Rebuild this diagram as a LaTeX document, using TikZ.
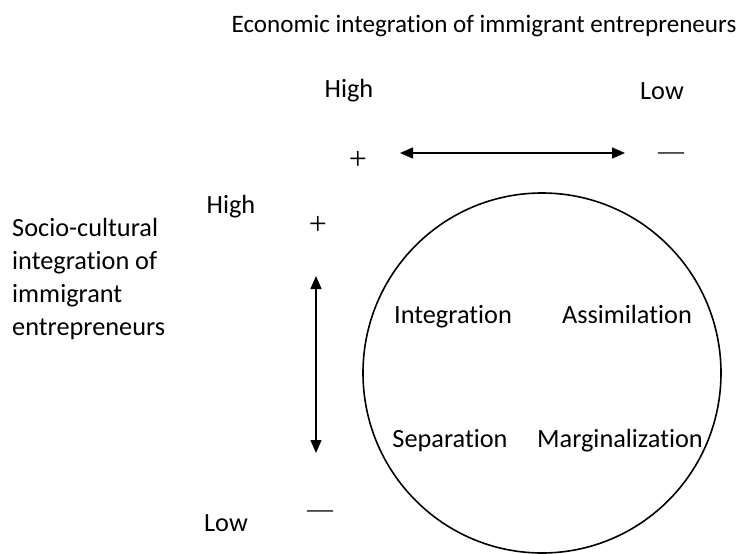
\documentclass[tikz,border=0pt]{standalone}
\usepackage{fontspec}
\setmainfont{Carlito}[Ligatures={NoCommon,NoRare,NoContextual}]
\newfontfamily\signfont{Liberation Serif}
\usetikzlibrary{arrows.meta}
\begin{document}
\begin{tikzpicture}[x=1pt,y=-1pt,
  lbl/.style={inner sep=0pt,anchor=base,font=\fontsize{26.3}{32.7}\selectfont},
  plussgn/.style={inner sep=0pt,anchor=base,font=\signfont\fontsize{32}{36}\selectfont},
  minussgn/.style={inner sep=0pt,anchor=base,font=\signfont\fontsize{26}{30}\selectfont},
  dblarrow/.style={line width=1.5pt,{Triangle[length=13pt,width=11pt]}-{Triangle[length=13pt,width=11pt]}}]
\useasboundingbox (0,0) rectangle (745,554);
% title and axis labels
\node[lbl,font=\fontsize{25.1}{30}\selectfont] (title) at (484,32) {Economic integration of immigrant entrepreneurs};
\node[lbl] (hightop) at (349,97) {High};
\node[lbl] (lowtop) at (662,99) {Low};
\node[lbl] (highleft) at (231,213) {High};
\node[lbl] (lowleft) at (226,531) {Low};
\node[lbl,anchor=base west,align=left] (socio) at (12,335)
  {Socio-cultural\\integration of\\immigrant\\entrepreneurs};
% signs
\node[plussgn] (plustop) at (358,169) {+};
\node[minussgn] (minustop) at (671,159.5) {—};
\node[plussgn] (plusleft) at (318,234) {+};
\node[minussgn] (minusleft) at (320,517.5) {—};
% arrows
\coordinate (hl) at (400,153);
\coordinate (hr) at (625,153);
\coordinate (vt) at (316,276);
\coordinate (vb) at (316,453);
\draw[dblarrow] (hl) -- (hr);
\draw[dblarrow] (vt) -- (vb);
% circle
\draw[line width=1.6pt] (542,373) ellipse [x radius=179, y radius=180];
\node[lbl] (integ) at (453,323) {Integration};
\node[lbl] (assim) at (627,323) {Assimilation};
\node[lbl] (separ) at (450,447) {Separation};
\node[lbl] (margin) at (620,447) {Marginalization};
\end{tikzpicture}
\end{document}
